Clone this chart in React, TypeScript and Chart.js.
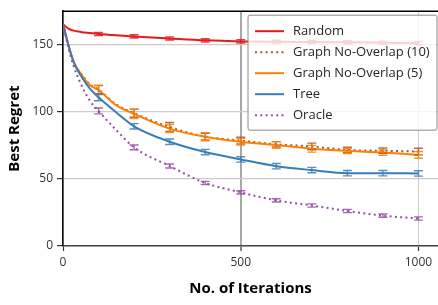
import React, { useEffect, useRef } from "react";
import { Chart, registerables } from "chart.js";

Chart.register(...registerables);

// ---- Data ----
const iterations = [0, 15, 30, 50, 75, 100, 150, 200, 300, 400, 500, 600, 700, 800, 900, 1000];
const randomVals = [165.5, 162, 160.5, 159.5, 158.7, 158, 157, 156.2, 154.7, 153.3, 152.5, 152.2, 152, 151.8, 151.5, 151.2];
const graph10Vals = [165.5, 150, 137.2, 128.8, 120.5, 116.5, 105.5, 99, 88.7, 81.5, 78.5, 75.8, 74.2, 71.6, 71, 70.4];
const graph5Vals = [165.5, 150, 137, 128.5, 120, 116.3, 104.8, 98.5, 87.5, 81.4, 77.7, 75.3, 72.5, 70.9, 69.6, 67.9];
const treeVals = [165.5, 150, 137, 127, 117.5, 110.8, 99.5, 89.2, 77.7, 70, 64.5, 59.5, 56.6, 54.3, 54.3, 54.1];
const oracleVals = [165.5, 148, 134, 121, 108.5, 100.7, 86.3, 73.5, 59.6, 47, 40, 34, 30.2, 26.1, 22.6, 20.5];

const errIterations = [100, 200, 300, 400, 500, 600, 700, 800, 900, 1000];
const randomErr = [1.2, 1.2, 1.2, 1.2, 1.2, 1.2, 1.2, 1.2, 1.2, 1.2];
const graph10Err = [3, 3, 3.3, 2.5, 2.5, 2, 2.5, 2, 2, 2.5];
const graph5Err = [3.5, 3.5, 3, 3, 2.5, 2.5, 2.5, 2, 2, 2.5];
const treeErr = [2.5, 2, 2, 2, 2, 2, 2, 2, 2, 2];
const oracleErr = [2.2, 1.8, 1.5, 1.2, 1.2, 1.2, 1.2, 1.2, 1.2, 1.2];

const seriesLabels = ["Random", "Graph No-Overlap (10)", "Graph No-Overlap (5)", "Tree", "Oracle"];
const xTicks = [0, 500, 1000];
const yTicks = [0, 50, 100, 150];

const FONT = "'Open Sans', 'Noto Sans', sans-serif";
const DOT: number[] = [2, 3.3];

const seriesDefs = [
  { label: seriesLabels[0], vals: randomVals, err: randomErr, color: "#e41a1c", dash: [] as number[], order: 5 },
  { label: seriesLabels[1], vals: graph10Vals, err: graph10Err, color: "#a65628", dash: DOT, order: 4 },
  { label: seriesLabels[2], vals: graph5Vals, err: graph5Err, color: "#ff7f00", dash: [] as number[], order: 3 },
  { label: seriesLabels[3], vals: treeVals, err: treeErr, color: "#377eb8", dash: [] as number[], order: 2 },
  { label: seriesLabels[4], vals: oracleVals, err: oracleErr, color: "#984ea3", dash: DOT, order: 1 },
];

function hexA(hex: string, a: number) {
  const r = parseInt(hex.slice(1, 3), 16);
  const g = parseInt(hex.slice(3, 5), 16);
  const b = parseInt(hex.slice(5, 7), 16);
  return `rgba(${r},${g},${b},${a})`;
}

const errorBarPlugin = {
  id: "errorBars",
  afterDatasetsDraw(chart: any) {
    const ctx = chart.ctx;
    const xs = chart.scales.x;
    const ys = chart.scales.y;
    ctx.save();
    ctx.beginPath();
    ctx.rect(chart.chartArea.left, chart.chartArea.top, chart.chartArea.right - chart.chartArea.left, chart.chartArea.bottom - chart.chartArea.top);
    ctx.clip();
    seriesDefs.forEach((s) => {
      ctx.strokeStyle = hexA(s.color, 0.85);
      ctx.lineWidth = 1.4;
      ctx.setLineDash([]);
      errIterations.forEach((it, i) => {
        const idx = iterations.indexOf(it);
        if (idx < 0) return;
        const v = s.vals[idx];
        const e = s.err[i];
        const px = xs.getPixelForValue(it);
        const y1 = ys.getPixelForValue(v - e);
        const y2 = ys.getPixelForValue(v + e);
        const cap = 4.5;
        ctx.beginPath();
        ctx.moveTo(px, y1);
        ctx.lineTo(px, y2);
        ctx.moveTo(px - cap, y1);
        ctx.lineTo(px + cap, y1);
        ctx.moveTo(px - cap, y2);
        ctx.lineTo(px + cap, y2);
        ctx.stroke();
      });
    });
    ctx.restore();
  },
};

const frameLegendPlugin = {
  id: "frameLegend",
  afterDraw(chart: any) {
    const ctx = chart.ctx;
    const a = chart.chartArea;
    ctx.save();
    // top spine
    ctx.strokeStyle = "#000";
    ctx.lineWidth = 1.5;
    ctx.setLineDash([]);
    ctx.beginPath();
    ctx.moveTo(a.left - 0.75, a.top);
    ctx.lineTo(a.right + 2, a.top);
    ctx.stroke();

    // legend
    const w = 189;
    const h = 115;
    const lx = a.right - w - 1;
    const ly = a.top + 4;
    const r = 2;
    ctx.beginPath();
    ctx.moveTo(lx + r, ly);
    ctx.lineTo(lx + w - r, ly);
    ctx.quadraticCurveTo(lx + w, ly, lx + w, ly + r);
    ctx.lineTo(lx + w, ly + h - r);
    ctx.quadraticCurveTo(lx + w, ly + h, lx + w - r, ly + h);
    ctx.lineTo(lx + r, ly + h);
    ctx.quadraticCurveTo(lx, ly + h, lx, ly + h - r);
    ctx.lineTo(lx, ly + r);
    ctx.quadraticCurveTo(lx, ly, lx + r, ly);
    ctx.closePath();
    ctx.fillStyle = "rgba(255,255,255,0.8)";
    ctx.fill();
    ctx.strokeStyle = "#8a8a8a";
    ctx.lineWidth = 1;
    ctx.stroke();

    ctx.font = `13px ${FONT}`;
    ctx.textBaseline = "middle";
    ctx.textAlign = "left";
    seriesDefs.forEach((s, i) => {
      const cy = ly + 16 + i * 21;
      ctx.strokeStyle = s.color;
      ctx.lineWidth = 2;
      ctx.setLineDash(s.dash);
      ctx.beginPath();
      ctx.moveTo(lx + 7, cy);
      ctx.lineTo(lx + 36, cy);
      ctx.stroke();
      ctx.setLineDash([]);
      ctx.fillStyle = "#262626";
      ctx.fillText(s.label, lx + 45, cy + 0.5);
    });
    ctx.restore();
  },
};

export default function App() {
  const ref = useRef<HTMLCanvasElement | null>(null);
  useEffect(() => {
    if (!ref.current) return;
    const chart = new Chart(ref.current, {
      type: "line",
      data: {
        datasets: seriesDefs.map((s) => ({
          label: s.label,
          data: iterations.map((x, i) => ({ x, y: s.vals[i] })),
          borderColor: s.color,
          backgroundColor: s.color,
          borderWidth: 2,
          borderDash: s.dash,
          pointRadius: 0,
          fill: false,
          cubicInterpolationMode: "monotone",
          order: s.order,
        })),
      },
      options: {
        animation: false,
        responsive: false,
        maintainAspectRatio: false,
        layout: { padding: { top: 8, right: 0, left: 0, bottom: 0 } },
        plugins: { legend: { display: false }, tooltip: { enabled: false } },
        scales: {
          x: {
            type: "linear",
            min: 0,
            max: 1055,
            afterBuildTicks: (s: any) => {
              s.ticks = xTicks.map((v) => ({ value: v }));
            },
            afterFit: (s: any) => {
              s.height = 59;
            },
            ticks: {
              autoSkip: false,
              maxRotation: 0,
              padding: 4,
              color: "#333",
              font: { family: FONT, size: 12 },
              callback: (v: any) => String(v),
            },
            grid: {
              color: (c: any) => (c.tick && c.tick.value === 500 ? "#a8a8a8" : "#cccccc"),
              lineWidth: (c: any) => (c.tick && c.tick.value === 500 ? 2 : 1),
              tickColor: "#333",
              tickLength: 5,
              tickWidth: 1.2,
            },
            border: { color: "#444", width: 1.6 },
            title: {
              display: true,
              text: "No. of Iterations",
              color: "#000",
              font: { family: FONT, size: 15, weight: "bold" },
              padding: { top: 0, bottom: 7 },
            },
          },
          y: {
            type: "linear",
            min: 0,
            max: 175,
            afterBuildTicks: (s: any) => {
              s.ticks = yTicks.map((v) => ({ value: v }));
            },
            afterFit: (s: any) => {
              s.width = 63;
            },
            ticks: {
              padding: 4,
              color: "#333",
              font: { family: FONT, size: 12 },
              callback: (v: any) => String(v),
            },
            grid: {
              color: "#cccccc",
              lineWidth: 1.2,
              tickColor: "#333",
              tickLength: 6,
              tickWidth: 1.2,
            },
            border: { color: "#111", width: 1.6 },
            title: {
              display: true,
              text: "Best Regret",
              color: "#000",
              font: { family: FONT, size: 15, weight: "bold" },
              padding: { top: 6, bottom: 0 },
            },
          },
        },
      },
      plugins: [errorBarPlugin, frameLegendPlugin],
    } as any);
    return () => chart.destroy();
  }, []);

  return (
    <div style={{ position: "fixed", left: 0, top: 0, width: 438, height: 305, overflow: "hidden", background: "#fff" }}>
      <canvas ref={ref} width={438} height={305} style={{ display: "block", width: 438, height: 305 }} />
    </div>
  );
}
